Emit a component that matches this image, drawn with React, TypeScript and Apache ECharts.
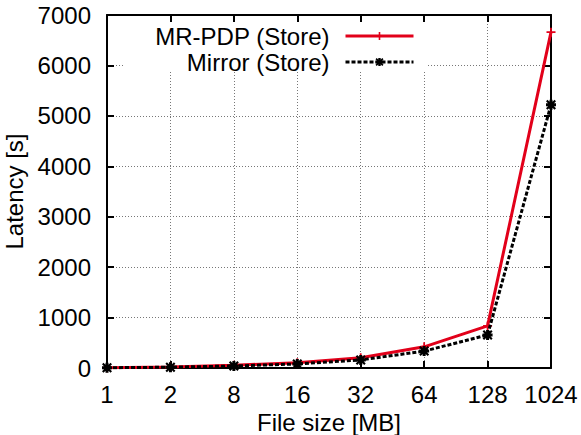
import React, { useEffect, useRef } from "react";
import * as echarts from "echarts";

const fileSizes = ["1", "2", "8", "16", "32", "64", "128", "1024"];
const mrPdpStore = [5, 20, 55, 105, 205, 420, 835, 6660];
const mirrorStore = [5, 15, 40, 80, 160, 335, 655, 5220];
const latencyTicks = { min: 0, max: 7000, interval: 1000 };

const FONT = "Liberation Sans, Arial, sans-serif";
const RED = "#e2001a";

// thin plus for the red series, thick asterisk for the dashed one
const plusSymbol = "path://M4 0h2v10h-2z M0 4h10v2h-10z";
const starSymbol =
  "path://M3.5 0h3v10h-3z M0 3.5h10v3h-10z M0 1.5L1.5 0L10 8.5L8.5 10z M8.5 0L10 1.5L1.5 10L0 8.5z";

export default function App() {
  const ref = useRef<HTMLDivElement>(null);

  useEffect(() => {
    if (!ref.current) return;
    const chart = echarts.init(ref.current, null, { renderer: "svg" });

    const tick = { show: true, inside: true, length: 7, lineStyle: { color: "#000", width: 2 } };
    const axisLine = { show: true, onZero: false, lineStyle: { color: "#000", width: 2 } };
    const grid = { show: true, lineStyle: { color: "#777", width: 1, type: [1, 2] as any } };
    const label = { color: "#000", fontSize: 24, fontFamily: FONT };

    const legendText = { color: "#000", fontSize: 24, fontFamily: FONT, padding: [0, 11, 0, 0] };
    const legendCommon = {
      orient: "vertical",
      align: "right",
      right: 166,
      padding: 0,
      itemWidth: 68,
      itemHeight: 10,
      textStyle: legendText,
      lineStyle: { width: 3 },
    };

    chart.setOption({
      animation: false,
      backgroundColor: "#fff",
      grid: {
        left: 107,
        right: 30,
        top: 15,
        bottom: 67,
        containLabel: false,
        outerBoundsMode: "none",
      },
      legend: [
        { ...legendCommon, data: ["MR-PDP (Store)"], top: 24 },
        { ...legendCommon, data: ["Mirror (Store)"], top: 50 },
      ],
      graphic: [
        {
          type: "rect",
          z: 1,
          shape: { x: 123, y: 17, width: 305, height: 55 },
          style: { fill: "#fff" },
          silent: true,
        },
      ],
      xAxis: [
        {
          type: "category",
          data: fileSizes,
          boundaryGap: false,
          position: "bottom",
          name: "File size [MB]",
          nameLocation: "middle",
          nameGap: 40,
          nameTextStyle: label,
          axisLine,
          axisTick: { ...tick, interval: 0 },
          axisLabel: { ...label, margin: 14, interval: 0 },
          splitLine: { ...grid, interval: 0 },
        },
        {
          type: "category",
          data: fileSizes,
          boundaryGap: false,
          position: "top",
          z: 2,
          axisLine,
          axisTick: { ...tick, interval: 0 },
          axisLabel: { show: false },
          splitLine: { show: false },
        },
      ],
      yAxis: [
        {
          type: "value",
          ...latencyTicks,
          position: "left",
          name: "Latency [s]",
          nameLocation: "middle",
          nameGap: 75,
          nameRotate: 90,
          nameTextStyle: label,
          axisLine,
          axisTick: tick,
          axisLabel: { ...label, margin: 16, formatter: (v: number) => String(v) },
          splitLine: grid,
        },
        {
          type: "value",
          ...latencyTicks,
          position: "right",
          z: 2,
          axisLine,
          axisTick: tick,
          axisLabel: { show: false },
          splitLine: { show: false },
        },
      ],
      series: [
        {
          name: "MR-PDP (Store)",
          type: "line",
          data: mrPdpStore,
          symbol: plusSymbol,
          symbolSize: 9,
          showAllSymbol: true,
          lineStyle: { color: RED, width: 3 },
          itemStyle: { color: RED },
          z: 3,
        },
        {
          name: "Mirror (Store)",
          type: "line",
          data: mirrorStore,
          symbol: starSymbol,
          symbolSize: 10,
          showAllSymbol: true,
          lineStyle: { color: "#000", width: 3, type: [4, 2] },
          itemStyle: { color: "#000" },
          z: 4,
        },
      ],
    });

    return () => chart.dispose();
  }, []);

  return <div ref={ref} style={{ width: 581, height: 435, position: "absolute", left: 0, top: 0 }} />;
}
